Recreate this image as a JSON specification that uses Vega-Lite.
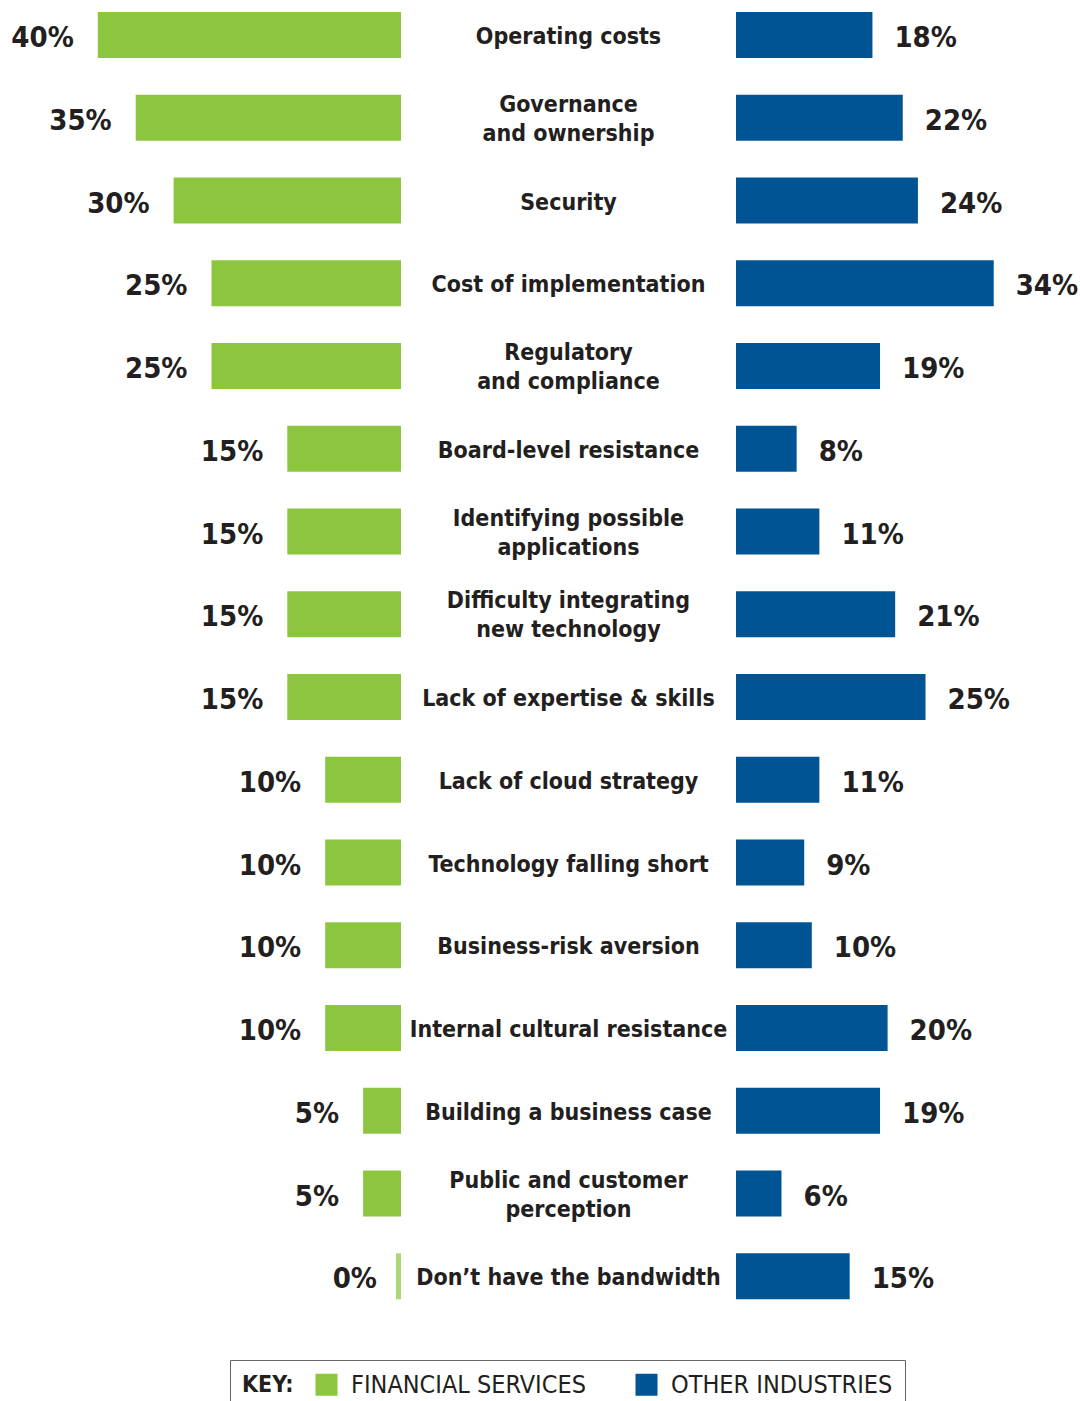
{
  "$schema": "https://vega.github.io/schema/vega-lite/v6.json",
  "width": 1080,
  "height": 1401,
  "autosize": "none",
  "padding": 0,
  "background": "white",
  "config": {"view": {"stroke": null}},
  "data": {"values": [
    {"category": "Operating costs", "lines": ["Operating costs"], "fin": 0.40, "oth": 0.18},
    {"category": "Governance and ownership", "lines": ["Governance", "and ownership"], "fin": 0.35, "oth": 0.22},
    {"category": "Security", "lines": ["Security"], "fin": 0.30, "oth": 0.24},
    {"category": "Cost of implementation", "lines": ["Cost of implementation"], "fin": 0.25, "oth": 0.34},
    {"category": "Regulatory and compliance", "lines": ["Regulatory", "and compliance"], "fin": 0.25, "oth": 0.19},
    {"category": "Board-level resistance", "lines": ["Board-level resistance"], "fin": 0.15, "oth": 0.08},
    {"category": "Identifying possible applications", "lines": ["Identifying possible", "applications"], "fin": 0.15, "oth": 0.11},
    {"category": "Difficulty integrating new technology", "lines": ["Difficulty integrating", "new technology"], "fin": 0.15, "oth": 0.21},
    {"category": "Lack of expertise & skills", "lines": ["Lack of expertise & skills"], "fin": 0.15, "oth": 0.25},
    {"category": "Lack of cloud strategy", "lines": ["Lack of cloud strategy"], "fin": 0.10, "oth": 0.11},
    {"category": "Technology falling short", "lines": ["Technology falling short"], "fin": 0.10, "oth": 0.09},
    {"category": "Business-risk aversion", "lines": ["Business-risk aversion"], "fin": 0.10, "oth": 0.10},
    {"category": "Internal cultural resistance", "lines": ["Internal cultural resistance"], "fin": 0.10, "oth": 0.20},
    {"category": "Building a business case", "lines": ["Building a business case"], "fin": 0.05, "oth": 0.19},
    {"category": "Public and customer perception", "lines": ["Public and customer", "perception"], "fin": 0.05, "oth": 0.06},
    {"category": "Don’t have the bandwidth", "lines": ["Don’t have the bandwidth"], "fin": 0.0, "oth": 0.15}
  ]},
  "resolve": {"scale": {"x": "independent"}},
  "layer": [
    {
      "encoding": {
        "x": {"field": "fin", "type": "quantitative", "scale": {"domain": [0, 0.4], "range": [401, 97.8], "zero": true, "nice": false}, "axis": null},
        "y": {"field": "category", "type": "nominal", "sort": null, "scale": {"range": [12, 1299.3], "paddingInner": 0.444, "paddingOuter": 0}, "axis": null}
      },
      "layer": [
        {"mark": {"type": "bar"}, "encoding": {"color": {"datum": "FINANCIAL SERVICES", "type": "nominal", "scale": {"domain": ["FINANCIAL SERVICES", "OTHER INDUSTRIES"], "range": ["#8cc63f", "#005494"]}, "legend": {"title": "KEY:", "orient": "none", "legendX": 230, "legendY": 1360, "direction": "horizontal", "titleOrient": "left", "titleFontSize": 23, "titleFont": "DejaVu Sans Condensed, Liberation Sans Narrow, sans-serif", "titleFontWeight": "bold", "titleColor": "#231f20", "titlePadding": 20, "titleBaseline": "middle", "symbolType": "square", "symbolSize": 484, "symbolStrokeWidth": 0, "symbolOpacity": 1, "labelFontSize": 25, "labelFont": "DejaVu Sans Condensed, Liberation Sans Narrow, sans-serif", "labelColor": "#231f20", "labelLimit": 400, "labelOffset": 12, "columnPadding": 48, "padding": 12, "strokeColor": "#666", "fillColor": "white"}}}},
        {"transform": [{"filter": "datum.fin == 0"}], "mark": {"type": "tick", "orient": "vertical", "thickness": 5, "size": 46, "xOffset": -2.5, "color": "#8cc63f"}},
        {"mark": {"type": "text", "align": "right", "baseline": "middle", "dx": -24, "dy": 3, "fontSize": 29, "fontWeight": "bold", "font": "DejaVu Sans Condensed, Liberation Sans Narrow, sans-serif", "color": "#231f20"}, "encoding": {"text": {"field": "fin", "type": "quantitative", "format": ".0%"}}}
      ]
    },
    {
      "encoding": {
        "x": {"field": "oth", "type": "quantitative", "scale": {"domain": [0, 0.4], "range": [736, 1039.2], "zero": true, "nice": false}, "axis": null},
        "y": {"field": "category", "type": "nominal", "sort": null, "scale": {"range": [12, 1299.3], "paddingInner": 0.444, "paddingOuter": 0}, "axis": null}
      },
      "layer": [
        {"mark": {"type": "bar"}, "encoding": {"color": {"datum": "OTHER INDUSTRIES", "type": "nominal"}}},
        {"mark": {"type": "text", "align": "left", "baseline": "middle", "dx": 22, "dy": 3, "fontSize": 29, "fontWeight": "bold", "font": "DejaVu Sans Condensed, Liberation Sans Narrow, sans-serif", "color": "#231f20"}, "encoding": {"text": {"field": "oth", "type": "quantitative", "format": ".0%"}}}
      ]
    },
    {
      "encoding": {
        "x": {"datum": 0.5, "type": "quantitative", "scale": {"domain": [0, 1], "range": [401, 736]}, "axis": null},
        "y": {"field": "category", "type": "nominal", "sort": null, "scale": {"range": [12, 1299.3], "paddingInner": 0.444, "paddingOuter": 0}, "axis": null},
        "text": {"field": "lines"}
      },
      "layer": [
        {"transform": [{"filter": "length(datum.lines) == 1"}], "mark": {"type": "text", "align": "center", "baseline": "middle", "dy": 2, "fontSize": 23, "lineHeight": 29, "fontWeight": "bold", "font": "DejaVu Sans Condensed, Liberation Sans Narrow, sans-serif", "color": "#231f20"}},
        {"transform": [{"filter": "length(datum.lines) == 2"}], "mark": {"type": "text", "align": "center", "baseline": "middle", "dy": -13, "fontSize": 23, "lineHeight": 29, "fontWeight": "bold", "font": "DejaVu Sans Condensed, Liberation Sans Narrow, sans-serif", "color": "#231f20"}}
      ]
    }
  ]
}
